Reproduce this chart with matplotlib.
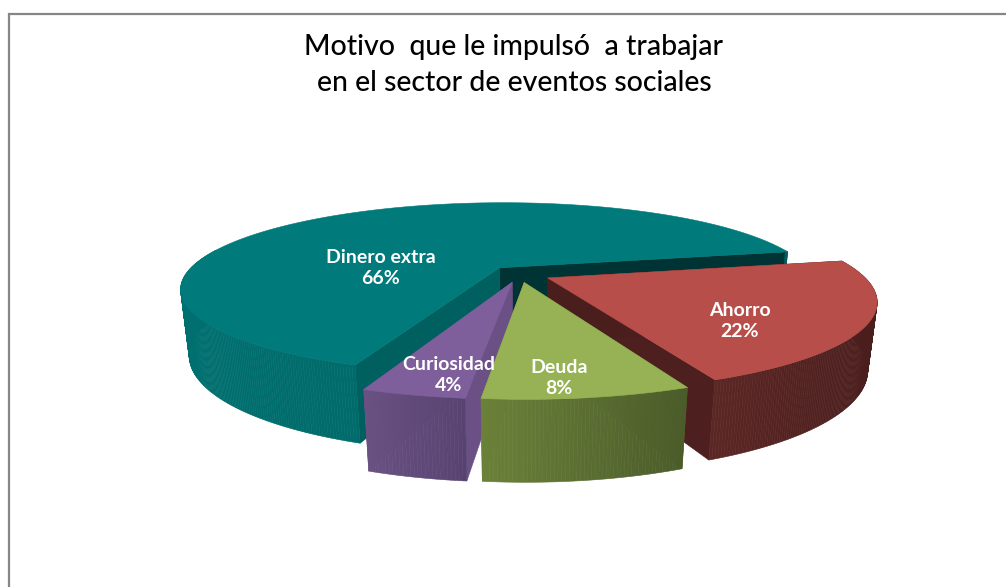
import numpy as np
import matplotlib
matplotlib.use("Agg")
import matplotlib.pyplot as plt
from matplotlib.colors import to_rgb
from matplotlib.patches import Polygon

categories = ["Dinero extra", "Curiosidad", "Deuda", "Ahorro"]
values = [66, 4, 8, 22]
title_lines = ["Motivo  que le impulsó  a trabajar", "en el sector de eventos sociales"]

# style per slice
top_colors = ["#007a7a", "#7f5f9b", "#97b254", "#b84e4a"]
wall_from = ["#006f6f", "#6a5183", "#6b8139", "#5c2725"]
wall_to = ["#005f5f", "#574370", "#4b5c2a", "#4a1e1d"]
start_face = ["#003333", "#6a5085", "#6b8139", "#4d1f1e"]
end_face = ["#005f5f", "#6a5085", "#4b5c2a", "#4a1e1d"]
label_xy = [(381, 268), (449, 375), (559, 378), (740, 321)]

# projection of the 3D pie
CX, CY = 519.5, 274.0
A, B, P = 314.0, 83.6, 0.243
Z, Q = 66.0, 0.025
EXPLODE = 0.10
START = 12.0


def project(u, v, z):
    w = 1 - P * v + Q * z
    return CX + A * u / w, CY + (B * v + Z * z) / w


fig = plt.figure(figsize=(10.06, 5.87), dpi=100)
ax = fig.add_axes([0, 0, 1, 1])
ax.set_xlim(0, 1006)
ax.set_ylim(587, 0)
ax.axis("off")

ax.plot([9, 9, 1006], [587, 14, 14], color="#868686", lw=1.6, solid_joinstyle="miter", zorder=1)


def poly(pts, color, z):
    ax.add_patch(Polygon(pts, closed=True, facecolor=color, edgecolor=color, lw=0.4, zorder=z))


total = sum(values)
spans = np.array(values) / total * 360
starts = START + np.concatenate([[0], np.cumsum(spans)[:-1]])
# far slices first, front slices last
draw_order = [0, 3, 1, 2]

for rank, i in enumerate(draw_order):
    a0, a1 = starts[i], starts[i] + spans[i]
    mid = np.radians((a0 + a1) / 2)
    # on screen v grows towards the viewer, so the sine is negated
    eu, ev = EXPLODE * np.cos(mid), -EXPLODE * np.sin(mid)
    th = np.radians(np.linspace(a0, a1, max(int(spans[i]) * 2, 20)))
    us, vs = eu + np.cos(th), ev - np.sin(th)
    top = np.array([project(u, v, 0) for u, v in zip(us, vs)])
    bot = np.array([project(u, v, 1) for u, v in zip(us, vs)])
    apex_t, apex_b = project(eu, ev, 0), project(eu, ev, 1)
    base = 10 + rank * 10

    poly([apex_t, top[0], bot[0], apex_b], start_face[i], base)
    poly([apex_t, top[-1], bot[-1], apex_b], end_face[i], base + 1)

    # rim wall, shaded by screen position along the slice
    c0, c1 = np.array(to_rgb(wall_from[i])), np.array(to_rgb(wall_to[i]))
    xmin, xmax = top[:, 0].min(), top[:, 0].max()
    for k in range(len(th) - 1):
        if vs[k] < -0.3 and vs[k + 1] < -0.3:
            continue
        t = (0.5 * (top[k, 0] + top[k + 1, 0]) - xmin) / (xmax - xmin)
        poly([top[k], top[k + 1], bot[k + 1], bot[k]], tuple(c0 + (c1 - c0) * t), base + 2)

    poly(np.vstack([[apex_t], top]), top_colors[i], base + 3)

for name, val, (x, y) in zip(categories, values, label_xy):
    ax.text(x, y, f"{name}\n{val}%", color="white", fontsize=14, fontweight="bold",
            family="Lato", ha="center", va="center", linespacing=1.35, zorder=100)

ax.text(514, 47, title_lines[0], fontsize=20.5, family="Lato", fontweight="medium",
        ha="center", va="center", color="black", zorder=100)
ax.text(514, 83, title_lines[1], fontsize=20.5, family="Lato", fontweight="medium",
        ha="center", va="center", color="black", zorder=100)

fig.savefig("out.png", dpi=100, facecolor="white")
